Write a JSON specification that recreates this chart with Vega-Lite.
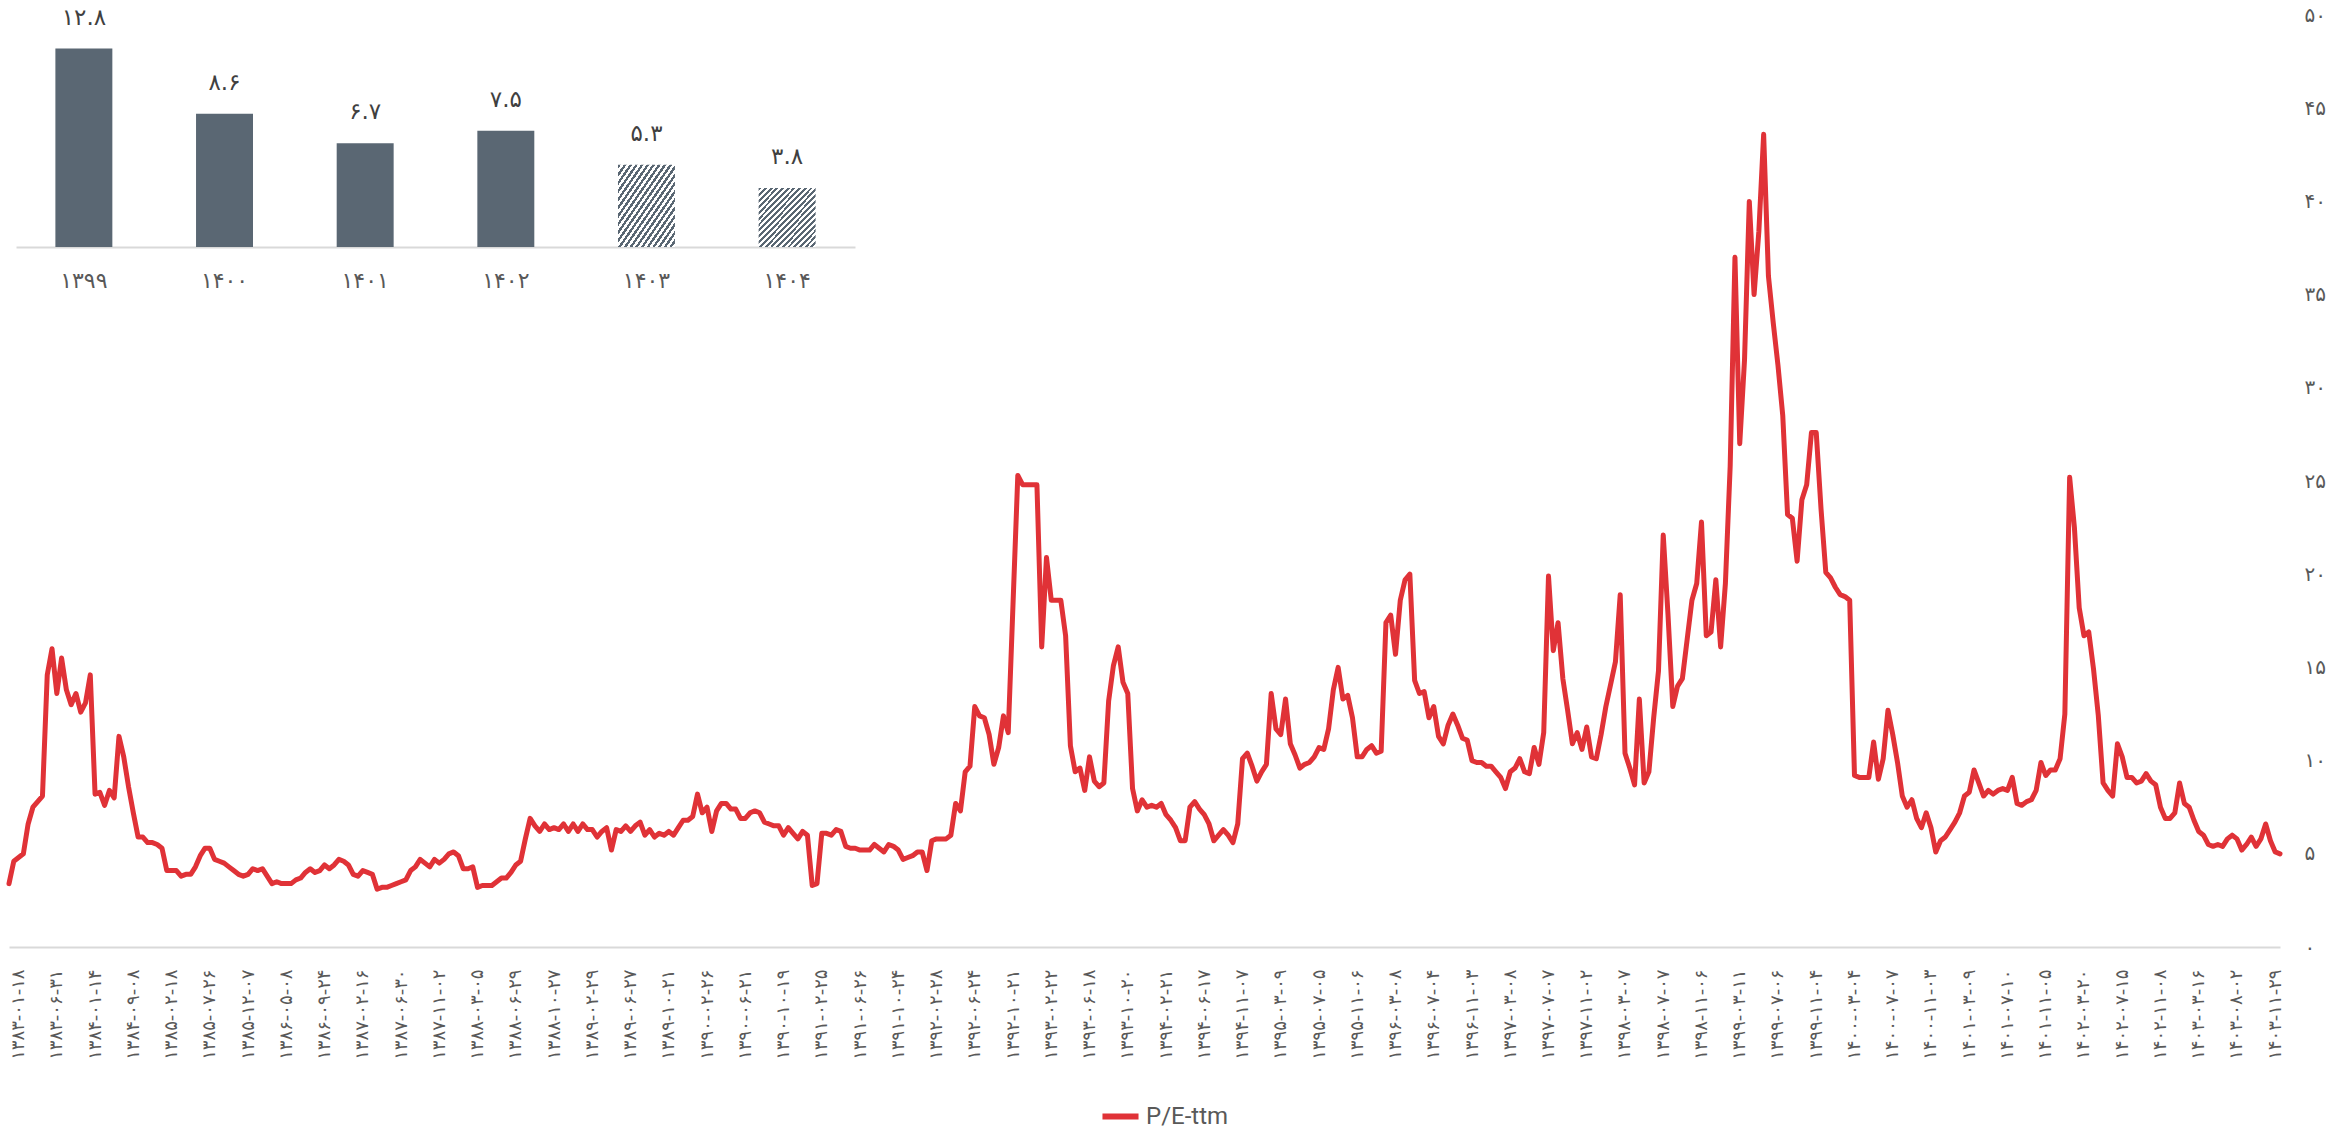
{
  "$schema": "https://vega.github.io/schema/vega-lite/v6.json",
  "width": 2271,
  "height": 932,
  "padding": {"left": 6, "top": 5, "right": 5, "bottom": 5},
  "background": "#ffffff",
  "config": {
    "view": {"stroke": null},
    "font": "DejaVu Sans",
    "locale": {"number": {"decimal": ".", "thousands": ",", "grouping": [3], "currency": ["", ""], "numerals": ["۰", "۱", "۲", "۳", "۴", "۵", "۶", "۷", "۸", "۹"]}},
    "axis": {"grid": false, "ticks": false}
  },
  "datasets": {
    "pe": [
      {"date":"1382-12-26","pe":3.4},{"date":"1383-01-10","pe":4.6},
      {"date":"1383-01-18","pe":4.8},{"date":"1383-02-08","pe":5.0},{"date":"1383-02-29","pe":6.6},{"date":"1383-03-19","pe":7.5},{"date":"1383-04-09","pe":7.8},{"date":"1383-04-30","pe":8.1},{"date":"1383-05-20","pe":14.6},{"date":"1383-06-10","pe":16.0},
      {"date":"1383-06-31","pe":13.6},{"date":"1383-07-24","pe":15.5},{"date":"1383-08-18","pe":13.8},{"date":"1383-09-12","pe":13.0},{"date":"1383-10-06","pe":13.6},{"date":"1383-10-30","pe":12.6},{"date":"1383-11-24","pe":13.1},{"date":"1383-12-18","pe":14.6},
      {"date":"1384-01-14","pe":8.2},{"date":"1384-02-13","pe":8.3},{"date":"1384-03-12","pe":7.6},{"date":"1384-04-11","pe":8.4},{"date":"1384-05-10","pe":8.0},{"date":"1384-06-09","pe":11.3},{"date":"1384-07-08","pe":10.2},{"date":"1384-08-08","pe":8.6},
      {"date":"1384-09-08","pe":7.2},{"date":"1384-09-28","pe":5.9},{"date":"1384-10-18","pe":5.9},{"date":"1384-11-08","pe":5.6},{"date":"1384-11-28","pe":5.6},{"date":"1384-12-18","pe":5.5},{"date":"1385-01-09","pe":5.3},{"date":"1385-01-29","pe":4.1},
      {"date":"1385-02-18","pe":4.1},{"date":"1385-03-07","pe":4.1},{"date":"1385-03-27","pe":3.8},{"date":"1385-04-16","pe":3.9},{"date":"1385-05-05","pe":3.9},{"date":"1385-05-25","pe":4.3},{"date":"1385-06-14","pe":4.9},{"date":"1385-07-03","pe":5.3},
      {"date":"1385-07-26","pe":5.3},{"date":"1385-08-12","pe":4.7},{"date":"1385-08-28","pe":4.6},{"date":"1385-09-14","pe":4.5},{"date":"1385-09-30","pe":4.3},{"date":"1385-10-16","pe":4.1},{"date":"1385-11-02","pe":3.9},{"date":"1385-11-18","pe":3.8},
      {"date":"1385-12-07","pe":3.9},{"date":"1385-12-26","pe":4.2},{"date":"1386-01-16","pe":4.1},{"date":"1386-02-04","pe":4.2},{"date":"1386-02-23","pe":3.8},{"date":"1386-03-11","pe":3.4},{"date":"1386-03-30","pe":3.5},{"date":"1386-04-18","pe":3.4},
      {"date":"1386-05-08","pe":3.4},{"date":"1386-05-25","pe":3.4},{"date":"1386-06-11","pe":3.6},{"date":"1386-06-28","pe":3.7},{"date":"1386-07-14","pe":4.0},{"date":"1386-08-01","pe":4.2},{"date":"1386-08-18","pe":4.0},{"date":"1386-09-05","pe":4.1},
      {"date":"1386-09-24","pe":4.4},{"date":"1386-10-12","pe":4.2},{"date":"1386-10-30","pe":4.4},{"date":"1386-11-18","pe":4.7},{"date":"1386-12-06","pe":4.6},{"date":"1386-12-24","pe":4.4},{"date":"1387-01-13","pe":3.9},{"date":"1387-01-31","pe":3.8},
      {"date":"1387-02-16","pe":4.1},{"date":"1387-03-02","pe":4.0},{"date":"1387-03-19","pe":3.9},{"date":"1387-04-05","pe":3.1},{"date":"1387-04-22","pe":3.2},{"date":"1387-05-08","pe":3.2},{"date":"1387-05-25","pe":3.3},{"date":"1387-06-11","pe":3.4},
      {"date":"1387-06-30","pe":3.5},{"date":"1387-07-14","pe":3.6},{"date":"1387-07-29","pe":4.1},{"date":"1387-08-14","pe":4.3},{"date":"1387-08-29","pe":4.7},{"date":"1387-09-14","pe":4.5},{"date":"1387-09-29","pe":4.3},{"date":"1387-10-14","pe":4.7},
      {"date":"1387-11-02","pe":4.5},{"date":"1387-11-17","pe":4.7},{"date":"1387-12-02","pe":5.0},{"date":"1387-12-17","pe":5.1},{"date":"1388-01-06","pe":4.9},{"date":"1388-01-18","pe":4.2},{"date":"1388-02-02","pe":4.2},{"date":"1388-02-17","pe":4.3},
      {"date":"1388-03-05","pe":3.2},{"date":"1388-03-20","pe":3.3},{"date":"1388-04-04","pe":3.3},{"date":"1388-04-19","pe":3.3},{"date":"1388-05-03","pe":3.5},{"date":"1388-05-18","pe":3.7},{"date":"1388-06-02","pe":3.7},{"date":"1388-06-17","pe":4.0},
      {"date":"1388-06-29","pe":4.4},{"date":"1388-07-13","pe":4.6},{"date":"1388-07-28","pe":5.8},{"date":"1388-08-13","pe":6.9},{"date":"1388-08-28","pe":6.5},{"date":"1388-09-13","pe":6.2},{"date":"1388-09-28","pe":6.6},{"date":"1388-10-13","pe":6.3},
      {"date":"1388-10-27","pe":6.4},{"date":"1388-11-12","pe":6.3},{"date":"1388-11-27","pe":6.6},{"date":"1388-12-12","pe":6.2},{"date":"1388-12-27","pe":6.6},{"date":"1389-01-13","pe":6.2},{"date":"1389-01-28","pe":6.6},{"date":"1389-02-12","pe":6.3},
      {"date":"1389-02-29","pe":6.3},{"date":"1389-03-13","pe":5.9},{"date":"1389-03-28","pe":6.2},{"date":"1389-04-12","pe":6.4},{"date":"1389-04-27","pe":5.2},{"date":"1389-05-11","pe":6.3},{"date":"1389-05-26","pe":6.2},{"date":"1389-06-10","pe":6.5},
      {"date":"1389-06-27","pe":6.2},{"date":"1389-07-10","pe":6.5},{"date":"1389-07-24","pe":6.7},{"date":"1389-08-08","pe":6.0},{"date":"1389-08-22","pe":6.3},{"date":"1389-09-06","pe":5.9},{"date":"1389-09-20","pe":6.1},{"date":"1389-10-04","pe":6.0},
      {"date":"1389-10-21","pe":6.2},{"date":"1389-11-07","pe":6.0},{"date":"1389-11-23","pe":6.4},{"date":"1389-12-09","pe":6.8},{"date":"1389-12-25","pe":6.8},{"date":"1390-01-12","pe":7.0},{"date":"1390-01-28","pe":8.2},{"date":"1390-02-13","pe":7.2},
      {"date":"1390-02-26","pe":7.5},{"date":"1390-03-10","pe":6.2},{"date":"1390-03-25","pe":7.3},{"date":"1390-04-09","pe":7.7},{"date":"1390-04-24","pe":7.7},{"date":"1390-05-08","pe":7.4},{"date":"1390-05-23","pe":7.4},{"date":"1390-06-07","pe":6.9},
      {"date":"1390-06-21","pe":6.9},{"date":"1390-07-05","pe":7.2},{"date":"1390-07-20","pe":7.3},{"date":"1390-08-05","pe":7.2},{"date":"1390-08-20","pe":6.7},{"date":"1390-09-05","pe":6.6},{"date":"1390-09-20","pe":6.5},{"date":"1390-10-05","pe":6.5},
      {"date":"1390-10-19","pe":6.0},{"date":"1390-11-05","pe":6.4},{"date":"1390-11-21","pe":6.1},{"date":"1390-12-07","pe":5.8},{"date":"1390-12-23","pe":6.2},{"date":"1391-01-10","pe":6.0},{"date":"1391-01-26","pe":3.3},{"date":"1391-02-11","pe":3.4},
      {"date":"1391-02-25","pe":6.1},{"date":"1391-03-10","pe":6.1},{"date":"1391-03-26","pe":6.0},{"date":"1391-04-11","pe":6.3},{"date":"1391-04-27","pe":6.2},{"date":"1391-05-12","pe":5.4},{"date":"1391-05-28","pe":5.3},{"date":"1391-06-13","pe":5.3},
      {"date":"1391-06-26","pe":5.2},{"date":"1391-07-10","pe":5.2},{"date":"1391-07-25","pe":5.2},{"date":"1391-08-10","pe":5.5},{"date":"1391-08-25","pe":5.3},{"date":"1391-09-10","pe":5.1},{"date":"1391-09-25","pe":5.5},{"date":"1391-10-10","pe":5.4},
      {"date":"1391-10-24","pe":5.2},{"date":"1391-11-09","pe":4.7},{"date":"1391-11-24","pe":4.8},{"date":"1391-12-09","pe":4.9},{"date":"1391-12-24","pe":5.1},{"date":"1392-01-10","pe":5.1},{"date":"1392-01-25","pe":4.1},{"date":"1392-02-09","pe":5.7},
      {"date":"1392-02-28","pe":5.8},{"date":"1392-03-12","pe":5.8},{"date":"1392-03-27","pe":5.8},{"date":"1392-04-11","pe":6.0},{"date":"1392-04-26","pe":7.7},{"date":"1392-05-10","pe":7.3},{"date":"1392-05-25","pe":9.4},{"date":"1392-06-09","pe":9.7},
      {"date":"1392-06-24","pe":12.9},{"date":"1392-07-08","pe":12.4},{"date":"1392-07-23","pe":12.3},{"date":"1392-08-08","pe":11.4},{"date":"1392-08-23","pe":9.8},{"date":"1392-09-08","pe":10.7},{"date":"1392-09-23","pe":12.4},{"date":"1392-10-08","pe":11.5},
      {"date":"1392-10-21","pe":18.4},{"date":"1392-11-06","pe":25.3},{"date":"1392-11-21","pe":24.8},{"date":"1392-12-06","pe":24.8},{"date":"1392-12-21","pe":24.8},{"date":"1393-01-07","pe":24.8},{"date":"1393-01-22","pe":16.1},{"date":"1393-02-06","pe":20.9},
      {"date":"1393-02-22","pe":18.6},{"date":"1393-03-06","pe":18.6},{"date":"1393-03-21","pe":18.6},{"date":"1393-04-05","pe":16.7},{"date":"1393-04-20","pe":10.8},{"date":"1393-05-04","pe":9.4},{"date":"1393-05-19","pe":9.6},{"date":"1393-06-03","pe":8.4},
      {"date":"1393-06-18","pe":10.2},{"date":"1393-07-02","pe":8.9},{"date":"1393-07-17","pe":8.6},{"date":"1393-08-02","pe":8.8},{"date":"1393-08-17","pe":13.2},{"date":"1393-09-02","pe":15.1},{"date":"1393-09-17","pe":16.1},{"date":"1393-10-02","pe":14.2},
      {"date":"1393-10-20","pe":13.6},{"date":"1393-11-05","pe":8.5},{"date":"1393-11-20","pe":7.3},{"date":"1393-12-05","pe":7.9},{"date":"1393-12-20","pe":7.5},{"date":"1394-01-06","pe":7.6},{"date":"1394-01-21","pe":7.5},{"date":"1394-02-05","pe":7.7},
      {"date":"1394-02-21","pe":7.1},{"date":"1394-03-05","pe":6.8},{"date":"1394-03-20","pe":6.4},{"date":"1394-04-04","pe":5.7},{"date":"1394-04-19","pe":5.7},{"date":"1394-05-03","pe":7.5},{"date":"1394-05-18","pe":7.8},{"date":"1394-06-02","pe":7.4},
      {"date":"1394-06-17","pe":7.1},{"date":"1394-07-04","pe":6.6},{"date":"1394-07-22","pe":5.7},{"date":"1394-08-10","pe":6.0},{"date":"1394-08-28","pe":6.3},{"date":"1394-09-16","pe":6.0},{"date":"1394-10-04","pe":5.6},{"date":"1394-10-22","pe":6.6},
      {"date":"1394-11-07","pe":10.1},{"date":"1394-11-22","pe":10.4},{"date":"1394-12-07","pe":9.7},{"date":"1394-12-22","pe":8.9},{"date":"1395-01-08","pe":9.4},{"date":"1395-01-23","pe":9.8},{"date":"1395-02-07","pe":13.6},{"date":"1395-02-22","pe":11.7},
      {"date":"1395-03-09","pe":11.4},{"date":"1395-03-24","pe":13.3},{"date":"1395-04-08","pe":10.9},{"date":"1395-04-23","pe":10.3},{"date":"1395-05-07","pe":9.6},{"date":"1395-05-22","pe":9.8},{"date":"1395-06-06","pe":9.9},{"date":"1395-06-21","pe":10.2},
      {"date":"1395-07-05","pe":10.7},{"date":"1395-07-20","pe":10.6},{"date":"1395-08-05","pe":11.7},{"date":"1395-08-20","pe":13.8},{"date":"1395-09-05","pe":15.0},{"date":"1395-09-20","pe":13.3},{"date":"1395-10-05","pe":13.5},{"date":"1395-10-20","pe":12.3},
      {"date":"1395-11-06","pe":10.2},{"date":"1395-11-21","pe":10.2},{"date":"1395-12-06","pe":10.6},{"date":"1395-12-21","pe":10.8},{"date":"1396-01-07","pe":10.4},{"date":"1396-01-22","pe":10.5},{"date":"1396-02-06","pe":17.4},{"date":"1396-02-21","pe":17.8},
      {"date":"1396-03-08","pe":15.7},{"date":"1396-03-23","pe":18.6},{"date":"1396-04-07","pe":19.7},{"date":"1396-04-22","pe":20.0},{"date":"1396-05-06","pe":14.3},{"date":"1396-05-21","pe":13.6},{"date":"1396-06-05","pe":13.7},{"date":"1396-06-20","pe":12.3},
      {"date":"1396-07-04","pe":12.9},{"date":"1396-07-19","pe":11.3},{"date":"1396-08-04","pe":10.9},{"date":"1396-08-19","pe":11.9},{"date":"1396-09-04","pe":12.5},{"date":"1396-09-19","pe":11.9},{"date":"1396-10-04","pe":11.2},{"date":"1396-10-19","pe":11.1},
      {"date":"1396-11-03","pe":10.0},{"date":"1396-11-19","pe":9.9},{"date":"1396-12-05","pe":9.9},{"date":"1396-12-21","pe":9.7},{"date":"1397-01-08","pe":9.7},{"date":"1397-01-24","pe":9.4},{"date":"1397-02-09","pe":9.1},{"date":"1397-02-25","pe":8.5},
      {"date":"1397-03-08","pe":9.4},{"date":"1397-03-23","pe":9.6},{"date":"1397-04-07","pe":10.1},{"date":"1397-04-22","pe":9.4},{"date":"1397-05-06","pe":9.3},{"date":"1397-05-21","pe":10.7},{"date":"1397-06-05","pe":9.8},{"date":"1397-06-20","pe":11.5},
      {"date":"1397-07-07","pe":19.9},{"date":"1397-07-21","pe":15.9},{"date":"1397-08-05","pe":17.4},{"date":"1397-08-19","pe":14.4},{"date":"1397-09-03","pe":12.7},{"date":"1397-09-17","pe":10.9},{"date":"1397-10-01","pe":11.5},{"date":"1397-10-15","pe":10.6},
      {"date":"1397-11-02","pe":11.8},{"date":"1397-11-18","pe":10.2},{"date":"1397-12-04","pe":10.1},{"date":"1397-12-20","pe":11.4},{"date":"1398-01-07","pe":12.9},{"date":"1398-01-23","pe":14.1},{"date":"1398-02-08","pe":15.3},{"date":"1398-02-24","pe":18.9},
      {"date":"1398-03-07","pe":10.4},{"date":"1398-03-22","pe":9.6},{"date":"1398-04-06","pe":8.7},{"date":"1398-04-21","pe":13.3},{"date":"1398-05-05","pe":8.8},{"date":"1398-05-20","pe":9.4},{"date":"1398-06-04","pe":12.3},{"date":"1398-06-19","pe":14.8},
      {"date":"1398-07-07","pe":22.1},{"date":"1398-07-22","pe":17.8},{"date":"1398-08-07","pe":12.9},{"date":"1398-08-22","pe":14.0},{"date":"1398-09-07","pe":14.4},{"date":"1398-09-22","pe":16.5},{"date":"1398-10-07","pe":18.6},{"date":"1398-10-22","pe":19.5},
      {"date":"1398-11-06","pe":22.8},{"date":"1398-11-22","pe":16.7},{"date":"1398-12-08","pe":16.9},{"date":"1398-12-24","pe":19.7},{"date":"1399-01-11","pe":16.1},{"date":"1399-01-27","pe":19.5},{"date":"1399-02-12","pe":25.8},{"date":"1399-02-28","pe":37.0},
      {"date":"1399-03-11","pe":27.0},{"date":"1399-03-26","pe":31.5},{"date":"1399-04-10","pe":40.0},{"date":"1399-04-25","pe":35.0},{"date":"1399-05-09","pe":38.4},{"date":"1399-05-24","pe":43.6},{"date":"1399-06-08","pe":36.0},{"date":"1399-06-23","pe":33.5},
      {"date":"1399-07-06","pe":31.2},{"date":"1399-07-21","pe":28.5},{"date":"1399-08-06","pe":23.2},{"date":"1399-08-21","pe":23.0},{"date":"1399-09-06","pe":20.7},{"date":"1399-09-21","pe":24.0},{"date":"1399-10-06","pe":24.8},{"date":"1399-10-21","pe":27.6},
      {"date":"1399-11-04","pe":27.6},{"date":"1399-11-19","pe":23.5},{"date":"1399-12-04","pe":20.1},{"date":"1399-12-19","pe":19.8},{"date":"1400-01-06","pe":19.3},{"date":"1400-01-20","pe":18.9},{"date":"1400-02-04","pe":18.8},{"date":"1400-02-19","pe":18.6},
      {"date":"1400-03-04","pe":9.2},{"date":"1400-03-20","pe":9.1},{"date":"1400-04-05","pe":9.1},{"date":"1400-04-21","pe":9.1},{"date":"1400-05-06","pe":11.0},{"date":"1400-05-22","pe":9.0},{"date":"1400-06-07","pe":10.1},{"date":"1400-06-23","pe":12.7},
      {"date":"1400-07-07","pe":11.4},{"date":"1400-07-21","pe":9.9},{"date":"1400-08-05","pe":8.1},{"date":"1400-08-19","pe":7.5},{"date":"1400-09-03","pe":7.9},{"date":"1400-09-17","pe":6.9},{"date":"1400-10-01","pe":6.4},{"date":"1400-10-15","pe":7.2},
      {"date":"1400-11-03","pe":6.4},{"date":"1400-11-19","pe":5.1},{"date":"1400-12-05","pe":5.7},{"date":"1400-12-21","pe":5.9},{"date":"1401-01-08","pe":6.3},{"date":"1401-01-24","pe":6.7},{"date":"1401-02-09","pe":7.2},{"date":"1401-02-25","pe":8.1},
      {"date":"1401-03-09","pe":8.3},{"date":"1401-03-25","pe":9.5},{"date":"1401-04-10","pe":8.8},{"date":"1401-04-26","pe":8.1},{"date":"1401-05-11","pe":8.4},{"date":"1401-05-27","pe":8.2},{"date":"1401-06-12","pe":8.4},{"date":"1401-06-28","pe":8.5},
      {"date":"1401-07-10","pe":8.4},{"date":"1401-07-24","pe":9.1},{"date":"1401-08-08","pe":7.7},{"date":"1401-08-22","pe":7.6},{"date":"1401-09-06","pe":7.8},{"date":"1401-09-20","pe":7.9},{"date":"1401-10-04","pe":8.4},{"date":"1401-10-18","pe":9.9},
      {"date":"1401-11-05","pe":9.2},{"date":"1401-11-22","pe":9.5},{"date":"1401-12-09","pe":9.5},{"date":"1401-12-26","pe":10.1},{"date":"1402-01-14","pe":12.5},{"date":"1402-01-31","pe":25.2},{"date":"1402-02-17","pe":22.5},{"date":"1402-03-03","pe":18.2},
      {"date":"1402-03-20","pe":16.7},{"date":"1402-04-04","pe":16.9},{"date":"1402-04-19","pe":14.9},{"date":"1402-05-03","pe":12.4},{"date":"1402-05-18","pe":8.8},{"date":"1402-06-02","pe":8.4},{"date":"1402-06-17","pe":8.1},{"date":"1402-07-01","pe":10.9},
      {"date":"1402-07-15","pe":10.2},{"date":"1402-07-29","pe":9.1},{"date":"1402-08-13","pe":9.1},{"date":"1402-08-27","pe":8.8},{"date":"1402-09-11","pe":8.9},{"date":"1402-09-25","pe":9.3},{"date":"1402-10-09","pe":8.9},{"date":"1402-10-23","pe":8.7},
      {"date":"1402-11-08","pe":7.5},{"date":"1402-11-24","pe":6.9},{"date":"1402-12-10","pe":6.9},{"date":"1402-12-26","pe":7.2},{"date":"1403-01-13","pe":8.8},{"date":"1403-01-29","pe":7.7},{"date":"1403-02-14","pe":7.5},{"date":"1403-02-30","pe":6.8},
      {"date":"1403-03-16","pe":6.2},{"date":"1403-04-02","pe":6.0},{"date":"1403-04-19","pe":5.5},{"date":"1403-05-05","pe":5.4},{"date":"1403-05-22","pe":5.5},{"date":"1403-06-08","pe":5.4},{"date":"1403-06-25","pe":5.8},{"date":"1403-07-11","pe":6.0},
      {"date":"1403-08-02","pe":5.8},{"date":"1403-08-17","pe":5.2},{"date":"1403-09-02","pe":5.5},{"date":"1403-09-17","pe":5.9},{"date":"1403-10-02","pe":5.4},{"date":"1403-10-17","pe":5.8},{"date":"1403-11-02","pe":6.6},{"date":"1403-11-17","pe":5.7},
      {"date":"1403-11-29","pe":5.1},{"date":"1403-12-06","pe":5.0}
    ],
    "annual": [
      {"year": "1399", "pe": 12.8, "kind": "actual"},
      {"year": "1400", "pe": 8.6, "kind": "actual"},
      {"year": "1401", "pe": 6.7, "kind": "actual"},
      {"year": "1402", "pe": 7.5, "kind": "actual"},
      {"year": "1403", "pe": 5.3, "kind": "forecast"},
      {"year": "1404", "pe": 3.8, "kind": "forecast"}
    ]
  },
  "layer": [
    {
      "data": {"name": "pe"},
      "mark": {"type": "line", "strokeWidth": 5, "strokeJoin": "round", "strokeCap": "round"},
      "encoding": {
        "x": {
          "field": "date", "type": "ordinal",
          "scale": {"type": "point", "padding": 0},
          "axis": {
            "title": null,
            "values": ["1383-01-18","1383-06-31","1384-01-14","1384-09-08","1385-02-18","1385-07-26","1385-12-07","1386-05-08","1386-09-24","1387-02-16","1387-06-30","1387-11-02","1388-03-05","1388-06-29","1388-10-27","1389-02-29","1389-06-27","1389-10-21","1390-02-26","1390-06-21","1390-10-19","1391-02-25","1391-06-26","1391-10-24","1392-02-28","1392-06-24","1392-10-21","1393-02-22","1393-06-18","1393-10-20","1394-02-21","1394-06-17","1394-11-07","1395-03-09","1395-07-05","1395-11-06","1396-03-08","1396-07-04","1396-11-03","1397-03-08","1397-07-07","1397-11-02","1398-03-07","1398-07-07","1398-11-06","1399-03-11","1399-07-06","1399-11-04","1400-03-04","1400-07-07","1400-11-03","1401-03-09","1401-07-10","1401-11-05","1402-03-20","1402-07-15","1402-11-08","1403-03-16","1403-08-02","1403-11-29"],
            "labelExpr": "replace(replace(replace(replace(replace(replace(replace(replace(replace(replace(datum.label, regexp('0','g'), '۰'), regexp('1','g'), '۱'), regexp('2','g'), '۲'), regexp('3','g'), '۳'), regexp('4','g'), '۴'), regexp('5','g'), '۵'), regexp('6','g'), '۶'), regexp('7','g'), '۷'), regexp('8','g'), '۸'), regexp('9','g'), '۹')",
            "labelAngle": -90,
            "labelFontSize": 18,
            "labelColor": "#595959",
            "labelPadding": 22,
            "labelOverlap": false,
            "labelBound": false,
            "ticks": false,
            "domainColor": "#d9d9d9",
            "domainWidth": 2
          }
        },
        "y": {
          "field": "pe", "type": "quantitative",
          "scale": {"domain": [0, 50], "nice": false, "zero": true},
          "axis": {
            "orient": "right", "title": null, "values": [0, 5, 10, 15, 20, 25, 30, 35, 40, 45, 50],
            "format": "d", "domain": false, "ticks": false, "grid": false,
            "labelFontSize": 20, "labelColor": "#595959", "labelPadding": 24
          }
        },
        "color": {
          "datum": "P/E-ttm",
          "scale": {"range": ["#e03237"]},
          "legend": {
            "orient": "none", "legendX": 1090, "legendY": 1080, "direction": "horizontal",
            "title": null, "symbolType": "stroke", "symbolStrokeWidth": 6,
            "symbolSize": 1300, "labelFontSize": 24, "labelFont": "Roboto",
            "labelColor": "#595959"
          }
        }
      }
    },
    {
      "data": {"name": "annual"},
      "encoding": {
        "x": {
          "field": "year", "type": "ordinal",
          "scale": {"type": "band", "domain": ["1399", "1400", "1401", "1402", "1403", "1404"], "range": [7, 846], "paddingInner": 0.595, "paddingOuter": 0.28},
          "axis": {
            "orient": "bottom", "offset": -700, "title": null, "labelAngle": 0,
            "labelExpr": "replace(replace(replace(replace(replace(replace(replace(replace(replace(replace(datum.label, regexp('0','g'), '۰'), regexp('1','g'), '۱'), regexp('2','g'), '۲'), regexp('3','g'), '۳'), regexp('4','g'), '۴'), regexp('5','g'), '۵'), regexp('6','g'), '۶'), regexp('7','g'), '۷'), regexp('8','g'), '۸'), regexp('9','g'), '۹')",
            "labelFontSize": 22, "labelColor": "#595959", "labelPadding": 23,
            "ticks": false, "domainColor": "#d9d9d9", "domainWidth": 2
          }
        },
        "y": {
          "field": "pe", "type": "quantitative",
          "scale": {"domain": [0, 14], "range": [232, 15], "nice": false},
          "axis": null
        }
      },
      "layer": [
        {
          "transform": [{"filter": "datum.kind == 'actual'"}],
          "mark": {"type": "bar", "color": "#5a6773"}
        },
        {
          "transform": [{"filter": "datum.kind == 'forecast'"}],
          "mark": {
            "type": "bar",
            "color": {
              "gradient": "linear", "x1": 0, "y1": 0, "x2": 1, "y2": 1,
              "stops": [
                {"offset":0,"color":"#5a6773"},{"offset":0.025,"color":"#5a6773"},{"offset":0.025,"color":"#ffffff"},{"offset":0.05,"color":"#ffffff"},
                {"offset":0.05,"color":"#5a6773"},{"offset":0.075,"color":"#5a6773"},{"offset":0.075,"color":"#ffffff"},{"offset":0.1,"color":"#ffffff"},
                {"offset":0.1,"color":"#5a6773"},{"offset":0.125,"color":"#5a6773"},{"offset":0.125,"color":"#ffffff"},{"offset":0.15,"color":"#ffffff"},
                {"offset":0.15,"color":"#5a6773"},{"offset":0.175,"color":"#5a6773"},{"offset":0.175,"color":"#ffffff"},{"offset":0.2,"color":"#ffffff"},
                {"offset":0.2,"color":"#5a6773"},{"offset":0.225,"color":"#5a6773"},{"offset":0.225,"color":"#ffffff"},{"offset":0.25,"color":"#ffffff"},
                {"offset":0.25,"color":"#5a6773"},{"offset":0.275,"color":"#5a6773"},{"offset":0.275,"color":"#ffffff"},{"offset":0.3,"color":"#ffffff"},
                {"offset":0.3,"color":"#5a6773"},{"offset":0.325,"color":"#5a6773"},{"offset":0.325,"color":"#ffffff"},{"offset":0.35,"color":"#ffffff"},
                {"offset":0.35,"color":"#5a6773"},{"offset":0.375,"color":"#5a6773"},{"offset":0.375,"color":"#ffffff"},{"offset":0.4,"color":"#ffffff"},
                {"offset":0.4,"color":"#5a6773"},{"offset":0.425,"color":"#5a6773"},{"offset":0.425,"color":"#ffffff"},{"offset":0.45,"color":"#ffffff"},
                {"offset":0.45,"color":"#5a6773"},{"offset":0.475,"color":"#5a6773"},{"offset":0.475,"color":"#ffffff"},{"offset":0.5,"color":"#ffffff"},
                {"offset":0.5,"color":"#5a6773"},{"offset":0.525,"color":"#5a6773"},{"offset":0.525,"color":"#ffffff"},{"offset":0.55,"color":"#ffffff"},
                {"offset":0.55,"color":"#5a6773"},{"offset":0.575,"color":"#5a6773"},{"offset":0.575,"color":"#ffffff"},{"offset":0.6,"color":"#ffffff"},
                {"offset":0.6,"color":"#5a6773"},{"offset":0.625,"color":"#5a6773"},{"offset":0.625,"color":"#ffffff"},{"offset":0.65,"color":"#ffffff"},
                {"offset":0.65,"color":"#5a6773"},{"offset":0.675,"color":"#5a6773"},{"offset":0.675,"color":"#ffffff"},{"offset":0.7,"color":"#ffffff"},
                {"offset":0.7,"color":"#5a6773"},{"offset":0.725,"color":"#5a6773"},{"offset":0.725,"color":"#ffffff"},{"offset":0.75,"color":"#ffffff"},
                {"offset":0.75,"color":"#5a6773"},{"offset":0.775,"color":"#5a6773"},{"offset":0.775,"color":"#ffffff"},{"offset":0.8,"color":"#ffffff"},
                {"offset":0.8,"color":"#5a6773"},{"offset":0.825,"color":"#5a6773"},{"offset":0.825,"color":"#ffffff"},{"offset":0.85,"color":"#ffffff"},
                {"offset":0.85,"color":"#5a6773"},{"offset":0.875,"color":"#5a6773"},{"offset":0.875,"color":"#ffffff"},{"offset":0.9,"color":"#ffffff"},
                {"offset":0.9,"color":"#5a6773"},{"offset":0.925,"color":"#5a6773"},{"offset":0.925,"color":"#ffffff"},{"offset":0.95,"color":"#ffffff"},
                {"offset":0.95,"color":"#5a6773"},{"offset":0.975,"color":"#5a6773"},{"offset":0.975,"color":"#ffffff"},{"offset":1,"color":"#ffffff"}
              ]
            }
          }
        },
        {
          "mark": {"type": "text", "dy": -31, "fontSize": 23, "color": "#404040", "baseline": "middle"},
          "encoding": {"text": {"field": "pe", "type": "quantitative", "format": ".1f"}}
        }
      ]
    }
  ],
  "resolve": {"scale": {"x": "independent", "y": "independent", "color": "independent"}}
}
